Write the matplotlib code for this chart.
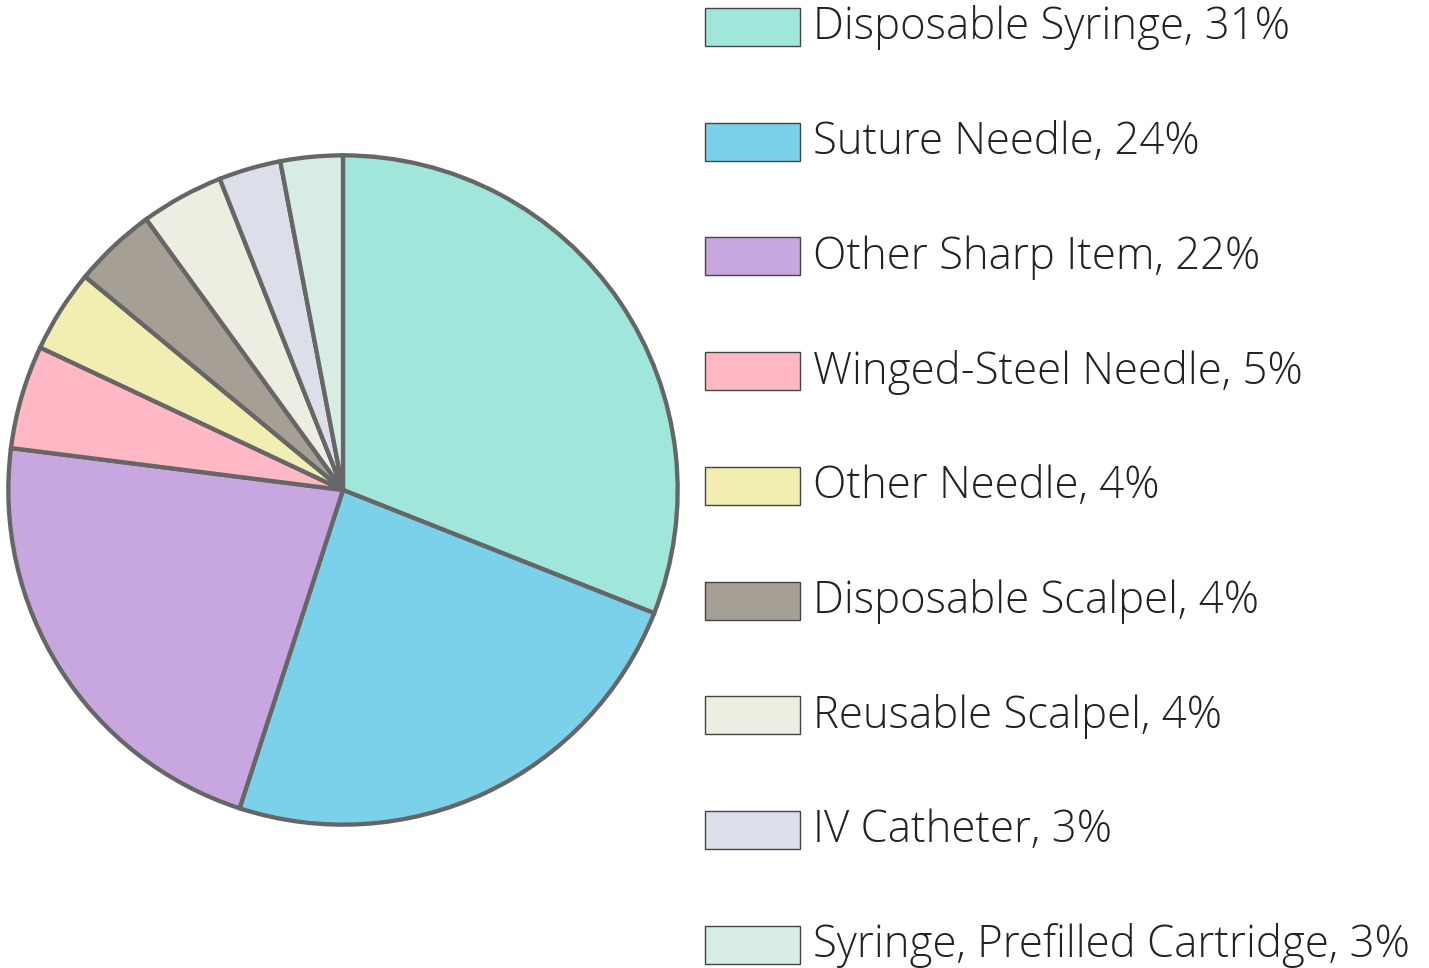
import matplotlib.pyplot as plt
from matplotlib.patches import Rectangle

# Sharps injury share by device
labels = ['Disposable Syringe', 'Suture Needle', 'Other Sharp Item', 'Winged-Steel Needle',
          'Other Needle', 'Disposable Scalpel', 'Reusable Scalpel', 'IV Catheter',
          'Syringe, Prefilled Cartridge']
values = [31, 24, 22, 5, 4, 4, 4, 3, 3]
colors = ['#a0e6da', '#7bd1ea', '#c8a7e0', '#ffb8c4', '#f2eeb2',
          '#a59f95', '#eeede2', '#dcdeea', '#d7ece4']

W, H = 1429, 968
fig = plt.figure(figsize=(W / 100, H / 100), dpi=100)

ax = fig.add_axes([5 / W, 140 / H, 676 / W, 676 / H])
ax.pie(values, colors=colors, startangle=90, counterclock=False,
       wedgeprops={'edgecolor': '#666666', 'linewidth': 3.1})
ax.set_xlim(-1.01, 1.01)
ax.set_ylim(-1.01, 1.01)
ax.set_aspect('equal')
ax.axis('off')

# legend drawn by hand in pixel coordinates
lax = fig.add_axes([0, 0, 1, 1])
lax.set_xlim(0, W)
lax.set_ylim(H, 0)
lax.axis('off')
row0, pitch = 27, 114.7
for i, (lab, v, c) in enumerate(zip(labels, values, colors)):
    yc = row0 + i * pitch
    lax.add_patch(Rectangle((705, yc - 19), 95, 38, facecolor=c,
                            edgecolor='#444444', linewidth=1.0))
    lax.text(813, yc + 1, f'{lab}, {v}%', fontsize=31.5, family='Open Sans',
             weight='light', color='#222222', va='center', ha='left')

fig.savefig('out.png', dpi=100)
